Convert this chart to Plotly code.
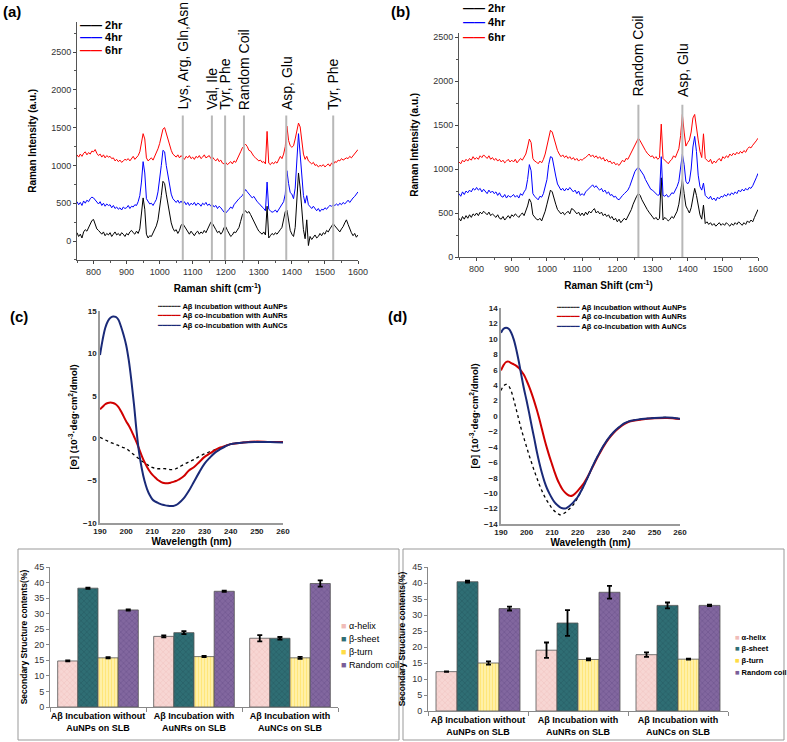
import plotly.graph_objects as go

W, H = 787, 742
FONT = "Liberation Sans, Arial, sans-serif"

# ---------------- Raman spectra (a) and (b) ----------------
raman_shift = list(range(750, 1601, 5))

a_2hr = [110, 60, 90, 40, 120, 150, 130, 170, 220, 270,
         285, 230, 160, 140, 110, 90, 120, 70, 100, 80,
         110, 60, 90, 120, 80, 100, 70, 110, 90, 60,
         100, 80, 120, 140, 110, 90, 130, 100, 160, 330,
         570, 420, 90, 40, 70, 60, 110, 140, 200, 280,
         420, 600, 790, 760, 620, 500, 330, 240, 170, 130,
         150, 100, 140, 210, 230, 190, 150, 120, 90, 130,
         100, 70, 110, 130, 90, 120, 100, 140, 110, 150,
         200, 250, 230, 180, 150, 110, 130, 90, 120, 180,
         190, 140, 100, 60, 80, 120, 110, 150, 180, 260,
         340, 380, 400, 370, 390, 350, 300, 260, 200, 170,
         130, 110, 90, 120, 80, 460, 40, 70, 100, 80,
         110, 90, 130, 150, 180, 270, 390, 410, 280, 140,
         90, 60, 180, 620, 900, 700, 380, 150, 30, 280,
         -60, 60, 20, 50, 80, 40, 60, 100, 70, 110,
         90, 140, 120, 160, 190, 230, 200, 170, 150, 120,
         160, 190, 240, 280, 220, 150, 110, 70, 100, 50,
         80]
a_4hr = [520, 480, 510, 470, 530, 500, 540, 520, 560, 580,
         570, 540, 510, 490, 520, 470, 500, 460, 490, 470,
         480, 440, 470, 430, 450, 420, 440, 410, 450, 430,
         440, 470, 430, 460, 450, 480, 470, 520, 600, 780,
         1050, 900, 560, 520, 490, 500, 470, 510, 550, 650,
         800, 1000, 1200, 1180, 1000, 860, 720, 620, 560, 530,
         510, 540, 500, 530, 490, 520, 480, 510, 470, 500,
         480, 510, 470, 500, 490, 460, 500, 480, 510, 470,
         490, 460, 480, 450, 470, 430, 460, 440, 400, 380,
         370, 390, 420, 450, 430, 480, 510, 540, 560, 580,
         600, 640, 680, 650, 620, 600, 570, 590, 550, 520,
         500, 470, 450, 430, 400, 780, 420, 400, 380, 390,
         410, 380, 420, 450, 480, 520, 620, 930, 760, 640,
         620, 560, 700, 1100, 1420, 1150, 850, 600, 500, 600,
         480, 450, 430, 460, 420, 400, 430, 390, 420, 410,
         440, 420, 450, 470, 460, 480, 470, 490, 470, 500,
         480, 510, 490, 520, 540, 510, 550, 570, 590, 620,
         650]
a_6hr = [1140, 1110, 1150, 1120, 1160, 1180, 1140, 1170, 1150, 1190,
         1180, 1210, 1160, 1130, 1150, 1110, 1140, 1100, 1130, 1110,
         1120, 1090, 1100, 1060, 1080, 1050, 1070, 1040, 1060, 1080,
         1070, 1090, 1060, 1100, 1120, 1080, 1110, 1130, 1180, 1280,
         1420, 1350, 1100, 1060, 1080, 1100, 1070, 1120, 1150, 1220,
         1290, 1380, 1480, 1500, 1420, 1340, 1260, 1200, 1150, 1130,
         1110, 1140, 1100, 1130, 1110, 1080, 1120, 1100, 1130, 1090,
         1110, 1080, 1120, 1100, 1130, 1090, 1110, 1140, 1100, 1120,
         1130, 1090, 1110, 1080, 1060, 1090, 1050, 1070, 1030, 1020,
         1040, 1010, 1030, 1050, 1020, 1060, 1040, 1080, 1120, 1180,
         1230, 1260, 1280, 1250, 1200, 1190, 1150, 1120, 1100, 1080,
         1060, 1070, 1040, 1050, 1020, 1450, 1030, 1010, 1040, 1020,
         1050, 1030, 1080, 1120, 1090, 1150, 1250, 1520, 1330, 1260,
         1240, 1260, 1350, 1480, 1560, 1510, 1350, 1150, 1080, 1120,
         1060, 1040, 1020, 1040, 1000, 1010, 980, 1000, 990, 1010,
         980, 1000, 1020, 990, 1030, 1010, 1050, 1040, 1070, 1060,
         1090, 1070, 1080, 1100, 1090, 1120, 1100, 1130, 1150, 1190,
         1210]

b_2hr = [440, 410, 460, 430, 470, 440, 480, 450, 490, 470,
         500, 470, 510, 490, 520, 500, 480, 510, 470, 490,
         470, 450, 480, 440, 430, 460, 420, 450, 470, 440,
         480, 460, 490, 470, 450, 480, 500, 470, 520, 580,
         660, 620, 480, 450, 430, 420, 440, 410, 460, 520,
         600, 700, 760, 740, 660, 600, 540, 520, 490, 510,
         480, 500, 520, 490, 550, 540, 520, 490, 510, 470,
         500, 470, 510, 480, 520, 500, 530, 550, 500, 520,
         490, 510, 470, 490, 460, 480, 440, 460, 420, 440,
         400, 430, 390, 410, 440, 420, 460, 490, 540, 600,
         650, 690, 720, 700, 650, 610, 580, 540, 510, 480,
         460, 430, 450, 420, 440, 900, 420, 450, 430, 410,
         430, 460, 440, 480, 520, 600, 720, 880, 720, 580,
         540, 500, 560, 680, 780, 700, 560, 480, 430, 590,
         380, 400, 370, 390, 360, 380, 350, 370, 390, 360,
         380, 360, 390, 370, 350, 380, 360, 390, 370, 400,
         380, 360, 390, 370, 410, 390, 420, 400, 450, 500,
         540]
b_4hr = [720, 690, 740, 710, 750, 730, 760, 740, 780, 760,
         790, 760, 780, 740, 770, 750, 720, 760, 730, 750,
         720, 740, 700, 730, 690, 680, 710, 670, 700, 680,
         690, 710, 680, 700, 670, 720, 700, 740, 770, 880,
         1050, 980, 720, 690, 670, 650, 690, 680, 720, 790,
         880, 1050, 1140, 1130, 1000, 920, 830, 790, 760, 780,
         750, 780, 760, 790, 770, 740, 760, 720, 750, 700,
         720, 700, 740, 760, 790, 800, 820, 790, 810, 780,
         760, 780, 740, 760, 720, 740, 700, 710, 680, 690,
         660, 650, 680, 700, 720, 740, 760, 800, 860, 920,
         970, 1000, 1020, 990, 960, 930, 880, 840, 800, 770,
         760, 740, 720, 700, 710, 1140, 700, 690, 710, 680,
         700, 730, 720, 760, 800, 860, 1000, 1170, 1050, 860,
         830, 860, 1000, 1250, 1370, 1200, 930, 800, 760, 840,
         700, 680, 660, 690, 650, 670, 640, 680, 660, 690,
         680, 710, 690, 720, 700, 730, 710, 740, 720, 760,
         740, 770, 750, 780, 760, 790, 780, 810, 850, 900,
         950]
b_6hr = [1080, 1060, 1100, 1080, 1110, 1090, 1120, 1100, 1140, 1110,
         1130, 1110, 1150, 1130, 1160, 1140, 1120, 1150, 1110, 1130,
         1100, 1120, 1090, 1110, 1080, 1100, 1070, 1090, 1110, 1080,
         1100, 1080, 1110, 1070, 1090, 1120, 1100, 1130, 1170, 1250,
         1340, 1300, 1120, 1090, 1080, 1060, 1090, 1070, 1110, 1170,
         1250, 1360, 1440, 1420, 1340, 1280, 1210, 1170, 1140, 1160,
         1130, 1150, 1120, 1140, 1110, 1130, 1100, 1120, 1090, 1110,
         1100, 1120, 1130, 1150, 1170, 1140, 1160, 1130, 1150, 1120,
         1140, 1110, 1130, 1090, 1110, 1080, 1090, 1060, 1080, 1050,
         1060, 1040, 1070, 1100, 1080, 1120, 1110, 1150, 1180, 1220,
         1260, 1310, 1350, 1320, 1280, 1250, 1210, 1180, 1160, 1140,
         1150, 1120, 1140, 1110, 1130, 1510, 1120, 1100, 1080, 1060,
         1090, 1110, 1150, 1130, 1180, 1230, 1380, 1620, 1420, 1260,
         1300, 1330, 1420, 1580, 1620, 1500, 1330, 1200, 1130, 1400,
         1120, 1100, 1080, 1110, 1060, 1090, 1070, 1100, 1120, 1090,
         1140, 1120, 1150, 1130, 1170, 1150, 1180, 1160, 1190, 1170,
         1200, 1180, 1210, 1190, 1230, 1250, 1240, 1270, 1290, 1320,
         1350]

raman_names = ["2hr", "4hr", "6hr"]
raman_colors = ["black", "#0000ff", "#ff0000"]

bands_a = [1070, 1158, 1198, 1255, 1383, 1525]
band_labels_a = ["Lys, Arg, Gln,Asn", "Val, Ile", "Tyr, Phe", "Random Coil", "Asp, Glu", "Tyr, Phe"]
band_top_a = 1660
bands_b = [1260, 1385]
band_labels_b = ["Random Coil", "Asp, Glu"]
band_top_b = 1730

# ---------------- CD spectra (c) and (d) ----------------
cd_c_wl = [190, 191, 192, 193, 194, 195, 196, 197, 198, 199, 200, 201, 202, 203, 204, 205,
           206, 207, 208, 209, 210, 211, 212, 213, 214, 215, 216, 217, 218, 219, 220,
           222, 224, 226, 228, 230, 232, 234, 236, 238, 240, 245, 250, 255, 260]
c_none = [0.1, -0.05, -0.2, -0.35, -0.5, -0.6, -0.75, -0.85, -1.0, -1.1, -1.2, -1.45, -1.7, -1.95, -2.2, -2.45,
          -2.7, -2.9, -3.1, -3.3, -3.45, -3.55, -3.6, -3.6, -3.6, -3.6, -3.65, -3.7, -3.7, -3.6, -3.45,
          -3.1, -2.8, -2.5, -2.15, -1.85, -1.6, -1.35, -1.15, -0.9, -0.7, -0.5, -0.4, -0.45, -0.5]
c_aunr = [3.4, 3.7, 4.0, 4.15, 4.2, 4.15, 4.0, 3.7, 3.2, 2.6, 2.0, 1.5, 0.9, 0.2, -0.5, -1.3,
          -2.1, -2.8, -3.4, -3.9, -4.3, -4.6, -4.9, -5.1, -5.25, -5.3, -5.3, -5.25, -5.15, -5.05, -4.9,
          -4.5, -3.8, -3.4, -2.8, -2.2, -1.8, -1.4, -1.1, -0.9, -0.7, -0.5, -0.4, -0.45, -0.45]
c_aunc = [9.8, 11.6, 13.0, 13.8, 14.2, 14.35, 14.3, 14.0, 13.2, 12.2, 11.0, 9.2, 6.8, 4.0, 0.8, -1.8,
          -3.6, -5.0, -6.0, -6.7, -7.2, -7.45, -7.6, -7.75, -7.85, -7.92, -7.97, -8.0, -8.0, -7.9, -7.7,
          -7.1, -6.2, -5.1, -4.0, -3.0, -2.3, -1.7, -1.3, -0.95, -0.7, -0.5, -0.45, -0.45, -0.5]

cd_d_wl = [190, 191, 192, 193, 194, 195, 196, 197, 198, 199, 200, 201, 202, 203, 204, 205,
           206, 207, 208, 209, 210, 211, 212, 213, 214, 215, 216, 217, 218, 219, 220,
           222, 224, 226, 228, 230, 232, 234, 236, 238, 240, 245, 250, 255, 260]
d_none = [3.3, 3.9, 4.1, 3.9, 3.2, 2.1, 0.8, -0.5, -1.8, -2.9, -4.0, -5.1, -6.1, -7.1, -8.0, -8.9,
          -9.7, -10.4, -11.0, -11.5, -12.0, -12.35, -12.6, -12.8, -12.75, -12.55, -12.25, -11.95, -11.6, -11.15, -10.6,
          -9.3, -7.9, -6.4, -5.1, -3.9, -2.9, -2.1, -1.5, -1.0, -0.7, -0.4, -0.25, -0.2, -0.35]
d_aunr = [5.9, 6.6, 7.0, 7.05, 6.85, 6.7, 6.5, 6.2, 5.8, 5.3, 4.6, 3.8, 2.9, 1.9, 0.8, -0.4,
          -1.7, -3.0, -4.2, -5.3, -6.3, -7.3, -8.2, -8.9, -9.5, -9.9, -10.2, -10.35, -10.3, -10.05, -9.7,
          -8.9, -7.8, -6.5, -5.2, -4.0, -3.0, -2.2, -1.6, -1.1, -0.75, -0.45, -0.3, -0.25, -0.4]
d_aunc = [10.8, 11.3, 11.45, 11.3, 10.8, 9.9, 8.6, 7.0, 5.2, 3.5, 2.0, 0.4, -1.3, -2.9, -4.6, -6.1,
          -7.4, -8.5, -9.4, -10.1, -10.7, -11.2, -11.55, -11.8, -11.95, -12.0, -11.85, -11.6, -11.3, -10.9, -10.5,
          -9.3, -7.9, -6.4, -5.1, -3.9, -2.9, -2.1, -1.5, -1.0, -0.7, -0.4, -0.25, -0.2, -0.35]

cd_names = ["Aβ incubation without AuNPs", "Aβ co-incubation with AuNRs", "Aβ co-incubation with AuNCs"]
cd_colors = ["black", "#d00000", "#1a2a78"]

# ---------------- Secondary structure bars ----------------
groups = ["Aβ Incubation without<br>AuNPs on SLB", "Aβ Incubation with<br>AuNRs on SLB",
          "Aβ Incubation with<br>AuNCs on SLB"]
structures = ["α-helix", "β-sheet", "β-turn", "Random coil"]
e_vals = [[14.8, 22.7, 22.1], [38.2, 23.9, 22.1], [15.8, 16.2, 15.8], [31.2, 37.2, 39.7]]
e_errs = [[0.15, 0.3, 1.0], [0.2, 0.5, 0.4], [0.2, 0.2, 0.3], [0.2, 0.2, 1.0]]
f_vals = [[12.3, 19.0, 17.6], [40.4, 27.5, 33.0], [15.0, 16.1, 16.2], [32.0, 37.1, 33.0]]
f_errs = [[0.1, 2.4, 0.7], [0.3, 4.0, 0.9], [0.5, 0.3, 0.15], [0.6, 2.0, 0.2]]

bar_style = [
    dict(bg="#f7d6d3", fg="#e9aeab", shape="x", size=4, sol=0.25, sw="#f0bcb8"),
    dict(bg="#2f6e74", fg="#1f4e55", shape="x", size=4, sol=0.3, sw="#2f6e74"),
    dict(bg="#fff6c4", fg="#ffd530", shape="|", size=3, sol=0.6, sw="#ffdc45"),
    dict(bg="#82679f", fg="#5d4580", shape="x", size=4, sol=0.3, sw="#7a5e99"),
]

fig = go.Figure()


def px_x(p):
    return p / W


def px_y(p):
    return 1 - p / H


# Raman traces
for name, ys, col in zip(raman_names, [a_2hr, a_4hr, a_6hr], raman_colors):
    fig.add_trace(go.Scatter(x=raman_shift, y=ys, mode="lines", name=name, showlegend=False,
                             line=dict(color=col, width=1), xaxis="x", yaxis="y"))
for name, ys, col in zip(raman_names, [b_2hr, b_4hr, b_6hr], raman_colors):
    fig.add_trace(go.Scatter(x=raman_shift, y=ys, mode="lines", name=name, showlegend=False,
                             line=dict(color=col, width=1), xaxis="x2", yaxis="y2"))

# band marker lines
for pos in bands_a:
    fig.add_trace(go.Scatter(x=[pos, pos], y=[-250, band_top_a], mode="lines", showlegend=False,
                             line=dict(color="#b8b8b8", width=2), xaxis="x", yaxis="y", hoverinfo="skip"))
for pos in bands_b:
    fig.add_trace(go.Scatter(x=[pos, pos], y=[0, band_top_b], mode="lines", showlegend=False,
                             line=dict(color="#b8b8b8", width=2), xaxis="x2", yaxis="y2", hoverinfo="skip"))

# CD traces
cd_styles = [dict(color=cd_colors[0], width=1.3, dash="dot"), dict(color=cd_colors[1], width=2),
             dict(color=cd_colors[2], width=2)]
for ys, nm, st in zip([c_none, c_aunr, c_aunc], cd_names, cd_styles):
    fig.add_trace(go.Scatter(x=cd_c_wl, y=ys, mode="lines", name=nm, showlegend=False,
                             line=dict(shape="spline", **st), xaxis="x3", yaxis="y3"))
for ys, nm, st in zip([d_none, d_aunr, d_aunc], cd_names, cd_styles):
    fig.add_trace(go.Scatter(x=cd_d_wl, y=ys, mode="lines", name=nm, showlegend=False,
                             line=dict(shape="spline", **st), xaxis="x4", yaxis="y4"))

# Bars
for (vals, errs, xa, ya) in [(e_vals, e_errs, "x5", "y5"), (f_vals, f_errs, "x6", "y6")]:
    for s, v, e, st in zip(structures, vals, errs, bar_style):
        fig.add_trace(go.Bar(x=groups, y=v, name=s, xaxis=xa, yaxis=ya, showlegend=False,
                             marker=dict(color=st["bg"], line=dict(color="#555555", width=0.8),
                                         pattern=dict(shape=st["shape"], fgcolor=st["fg"], bgcolor=st["bg"],
                                                      size=st["size"], solidity=st["sol"])),
                             error_y=dict(type="data", array=e, color="black", thickness=1.8, width=2.5)))

tickfont = dict(family=FONT, size=9, color="#333333")
boldtick = dict(family=FONT, size=8, color="#222222", weight="bold")
titlefont = dict(family=FONT, size=10, color="black", weight="bold")


def raman_axes(dom_x, dom_y, yr):
    xa = dict(domain=dom_x, range=[750, 1600], tick0=800, dtick=100, ticks="outside", ticklen=3,
              showline=True, linecolor="#555555", linewidth=1, showgrid=False, zeroline=False,
              tickfont=tickfont, minor=dict(ticks="outside", dtick=50, ticklen=2, tickcolor="#555555"))
    ya = dict(domain=dom_y, range=yr, tickvals=[0, 500, 1000, 1500, 2000, 2500], ticks="outside", ticklen=3,
              showline=True, linecolor="#555555", linewidth=1, showgrid=False, zeroline=False, tickfont=tickfont,
              minor=dict(ticks="outside", dtick=250, ticklen=2, tickcolor="#555555"))
    return xa, ya


xa, ya = raman_axes([px_x(77), px_x(358)], [px_y(259.9), px_y(21.8)], [-250, 2900])
xa["title"] = dict(text="Raman shift (cm<sup>-1</sup>)", font=titlefont, standoff=9)
ya["title"] = dict(text="Raman Intensity (a.u.)", font=titlefont, standoff=12)
fig.update_layout(xaxis=dict(xa, anchor="y"), yaxis=dict(ya, anchor="x"))
xa2, ya2 = raman_axes([px_x(459), px_x(758)], [px_y(257), px_y(32.6)], [0, 2550])
xa2["title"] = dict(text="Raman Shift (cm<sup>-1</sup>)", font=titlefont, standoff=9)
ya2["title"] = dict(text="Raman Intensity (a.u.)", font=titlefont, standoff=12)
fig.update_layout(xaxis2=dict(xa2, anchor="y2"), yaxis2=dict(ya2, anchor="x2"))


def cd_axes(dom_x, dom_y, yr, dy):
    xa = dict(domain=dom_x, range=[190, 260], dtick=10, ticks="", showline=True, linecolor="#9a9a9a",
              linewidth=1.5, showgrid=False, zeroline=False, tickfont=boldtick,
              title=dict(text="Wavelength (nm)", font=titlefont, standoff=2))
    ya = dict(domain=dom_y, range=yr, dtick=dy, ticks="", showline=True, linecolor="#9a9a9a",
              linewidth=1.5, showgrid=False, zeroline=False, tickfont=boldtick,
              title=dict(text="[Θ] (10<sup>-3</sup>·deg·cm<sup>2</sup>/dmol)", font=dict(titlefont, size=9.5),
                         standoff=4))
    return xa, ya


xa3, ya3 = cd_axes([px_x(100), px_x(283)], [px_y(523), px_y(311)], [-10, 15], 5)
xa4, ya4 = cd_axes([px_x(501), px_x(680)], [px_y(524), px_y(308)], [-14, 14], 2)
fig.update_layout(xaxis3=dict(xa3, anchor="y3"), yaxis3=dict(ya3, anchor="x3"),
                  xaxis4=dict(xa4, anchor="y4"), yaxis4=dict(ya4, anchor="x4"))


def bar_axes(dom_x, dom_y):
    xa = dict(domain=dom_x, showline=True, linecolor="#888888", linewidth=1, ticks="outside", tickson="boundaries",
              ticklen=4, tickcolor="#888888", tickangle=0,
              tickfont=dict(family=FONT, size=9, color="black", weight="bold"))
    ya = dict(domain=dom_y, range=[0, 45], dtick=5, showline=True, linecolor="#888888", linewidth=1, ticks="outside",
              ticklen=3, tickcolor="#888888", showgrid=False, zeroline=False, tickfont=tickfont,
              title=dict(text="Secondary Structure contents(%)", font=dict(titlefont, size=8.5), standoff=5))
    return xa, ya


xa5, ya5 = bar_axes([px_x(50), px_x(338)], [px_y(707), px_y(567)])
xa6, ya6 = bar_axes([px_x(428), px_x(728)], [px_y(711), px_y(567)])
fig.update_layout(xaxis5=dict(xa5, anchor="y5"), yaxis5=dict(ya5, anchor="x5"),
                  xaxis6=dict(xa6, anchor="y6"), yaxis6=dict(ya6, anchor="x6"),
                  barmode="group", bargap=0.16, bargroupgap=0.0)

annotations = []


def legend_rows(names, colors, sample, x_left, rows_y, size, bold, sample_style=""):
    for nm, col, smp, yy in zip(names, colors, sample, rows_y):
        annotations.append(dict(
            x=px_x(x_left), y=px_y(yy), xref="paper", yref="paper", showarrow=False,
            xanchor="left", yanchor="middle",
            text=f"<span style='color:{col};{sample_style}'>{smp}</span> {nm}",
            font=dict(family=FONT, size=size, color="black", weight="bold" if bold else "normal")))


def legend_block(names, colors, sample, x_left, y_mid, base_size, text_size, sample_style):
    # one text block: line spacing follows base_size (1.3 em)
    lines = [f"<span style='color:{c};{sample_style}'>{s}</span>"
             f"<span style='font-size:{text_size}px'> {n}</span>" for n, c, s in zip(names, colors, sample)]
    annotations.append(dict(x=px_x(x_left), y=px_y(y_mid), xref="paper", yref="paper", showarrow=False,
                            xanchor="left", yanchor="middle", align="left", text="<br>".join(lines),
                            font=dict(family=FONT, size=base_size, color="black", weight="bold")))


legend_rows(raman_names, raman_colors, ["——"] * 3, 78, [25, 37.5, 50.5], 11, True)
legend_rows(raman_names, raman_colors, ["——"] * 3, 461, [7.5, 22, 36.5], 11, True)
dj = "font-family:DejaVu Sans;font-size:7.5px"
legend_block(cd_names, cd_colors, ["┅┅┅┅┅", "━━━━━", "━━━━━"], 155, 316, 7.3, 7.5, dj)
legend_block(cd_names, cd_colors, ["┅┅┅┅┅", "━━━━━", "━━━━━"], 554, 317, 7.3, 7.5, dj)
legend_rows(structures, [s["sw"] for s in bar_style], ["■"] * 4, 339, [626, 639, 652, 664.5], 9, False)
legend_rows(structures, [s["sw"] for s in bar_style], ["■"] * 4, 733, [637, 648.5, 660.5, 672], 7.5, True)

for pos, lab in zip(bands_a, band_labels_a):
    annotations.append(dict(x=pos, y=band_top_a + 50, xref="x", yref="y", text=lab, textangle=-90, showarrow=False,
                            xanchor="center", yanchor="bottom", font=dict(family=FONT, size=14, color="black")))
for pos, lab in zip(bands_b, band_labels_b):
    annotations.append(dict(x=pos, y=band_top_b + 70, xref="x2", yref="y2", text=lab, textangle=-90, showarrow=False,
                            xanchor="center", yanchor="bottom", font=dict(family=FONT, size=14, color="black")))
for lab, xp, yp in [("(a)", 1, 12), ("(b)", 389, 12), ("(c)", 8, 316), ("(d)", 386, 316)]:
    annotations.append(dict(x=px_x(xp), y=px_y(yp), xref="paper", yref="paper", text=lab, showarrow=False,
                            xanchor="left", yanchor="middle",
                            font=dict(family=FONT, size=15, color="black", weight="bold")))

shapes = [
    dict(type="rect", xref="paper", yref="paper", x0=px_x(18), x1=px_x(399), y0=px_y(740), y1=px_y(549),
         line=dict(color="#999999", width=1)),
    dict(type="rect", xref="paper", yref="paper", x0=px_x(403), x1=px_x(784), y0=px_y(740), y1=px_y(549),
         line=dict(color="#999999", width=1)),
]

fig.update_layout(width=W, height=H, autosize=False,
                  margin=dict(l=0, r=0, t=0, b=0, autoexpand=False), showlegend=False,
                  paper_bgcolor="white", plot_bgcolor="white", annotations=annotations, shapes=shapes,
                  font=dict(family=FONT))

fig.write_html("out.html", config={"displayModeBar": False},
               post_script="document.body.style.margin='0';document.body.style.overflow='hidden';")
